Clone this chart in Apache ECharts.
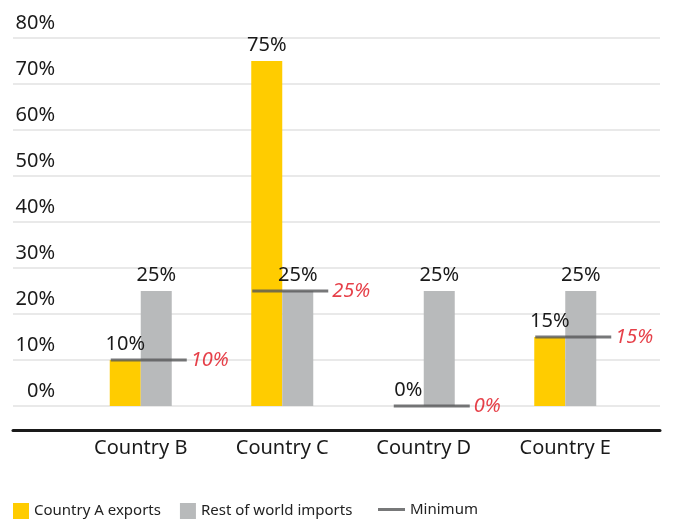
<!DOCTYPE html>
<html>
<head>
<meta charset="utf-8">
<script src="https://cdn.jsdelivr.net/npm/echarts@6/dist/echarts.min.js"></script>
<style>
  html, body {margin: 0; padding: 0; background: #fff;}
  #chart {width: 673px; height: 522px;}
</style>
</head>
<body>
<div id="chart"></div>
<script>
const categories = ['Country B', 'Country C', 'Country D', 'Country E']
const exportsA = [10, 75, 0, 15]
const worldImports = [25, 25, 25, 25]
const minimum = [10, 25, 0, 15]
const yTicks = {min: 0, max: 80, interval: 10}

const yellow = '#ffcc00'
const grey = '#b8babb'
const lineGrey = '#555658'
const red = '#e0101b'
const textColor = '#1a1a1a'
const font = 'Noto Sans'

const chart = echarts.init(document.getElementById('chart'))

const option = {
  animation: false,
  textStyle: {fontFamily: font},
  grid: [
    // wide grid: gridlines + black base line
    {left: 13, right: 13, top: 38, bottom: 116},
    // narrower grid for the bars
    {left: 70, right: 37, top: 38, bottom: 116},
  ],
  legend: [{
    left: 13,
    top: 503,
    padding: 0,
    itemWidth: 16,
    itemHeight: 16,
    itemGap: 19,
    textStyle: {fontSize: 15, color: '#222', fontFamily: font},
    data: [
      {name: 'Country A exports', icon: 'rect'},
      {name: 'Rest of world imports', icon: 'rect'},
    ],
  }, {
    left: 378,
    top: 502,
    padding: 0,
    itemWidth: 27,
    itemHeight: 3,
    textStyle: {fontSize: 15, color: '#222', fontFamily: font},
    data: [{name: 'Minimum', icon: 'rect'}],
  }],
  xAxis: [{
    gridIndex: 0,
    type: 'value',
    min: 0,
    max: 1,
    offset: 24,
    axisLine: {show: true, onZero: false, lineStyle: {color: textColor, width: 3}},
    axisTick: {show: false},
    axisLabel: {show: false},
    splitLine: {show: false},
  }, {
    gridIndex: 1,
    type: 'category',
    data: categories,
    offset: 24,
    axisLine: {show: false, onZero: false},
    axisTick: {show: false},
    axisLabel: {fontSize: 20, color: textColor, margin: 8, fontFamily: font},
  }],
  yAxis: [{
    gridIndex: 0,
    type: 'value',
    ...yTicks,
    axisLine: {show: false},
    axisTick: {show: false},
    splitLine: {lineStyle: {color: '#e2e2e2', width: 1.5}},
    axisLabel: {
      inside: true,
      margin: 42,
      align: 'right',
      verticalAlign: 'bottom',
      lineHeight: 20,
      padding: [0, 0, 5, 0],
      fontSize: 20,
      color: textColor,
      fontFamily: font,
      formatter: v => `${v}%`,
    },
  }, {
    gridIndex: 1,
    type: 'value',
    ...yTicks,
    show: false,
    splitLine: {show: false},
  }],
  series: [{
    name: 'Country A exports',
    type: 'bar',
    xAxisIndex: 1,
    yAxisIndex: 1,
    data: exportsA,
    barWidth: 31,
    barGap: '0%',
    itemStyle: {color: yellow},
    label: {
      show: true,
      position: 'top',
      distance: 6,
      fontSize: 20,
      color: textColor,
      fontFamily: font,
      formatter: p => `${p.value}%`,
    },
  }, {
    name: 'Rest of world imports',
    type: 'bar',
    xAxisIndex: 1,
    yAxisIndex: 1,
    data: worldImports,
    barWidth: 31,
    itemStyle: {color: grey},
    label: {
      show: true,
      position: 'top',
      distance: 6,
      fontSize: 20,
      color: textColor,
      fontFamily: font,
      formatter: p => `${p.value}%`,
    },
  }, {
    name: 'Minimum',
    type: 'scatter',
    xAxisIndex: 1,
    yAxisIndex: 1,
    data: minimum,
    symbol: 'rect',
    symbolSize: [76, 3],
    symbolOffset: [8, 0],
    itemStyle: {color: lineGrey},
    z: 5,
    label: {
      show: true,
      position: 'right',
      distance: 4,
      fontSize: 20,
      fontStyle: 'italic',
      color: red,
      fontFamily: font,
      formatter: p => `${p.value}%`,
    },
  }],
}

chart.setOption(option)
</script>
</body>
</html>
